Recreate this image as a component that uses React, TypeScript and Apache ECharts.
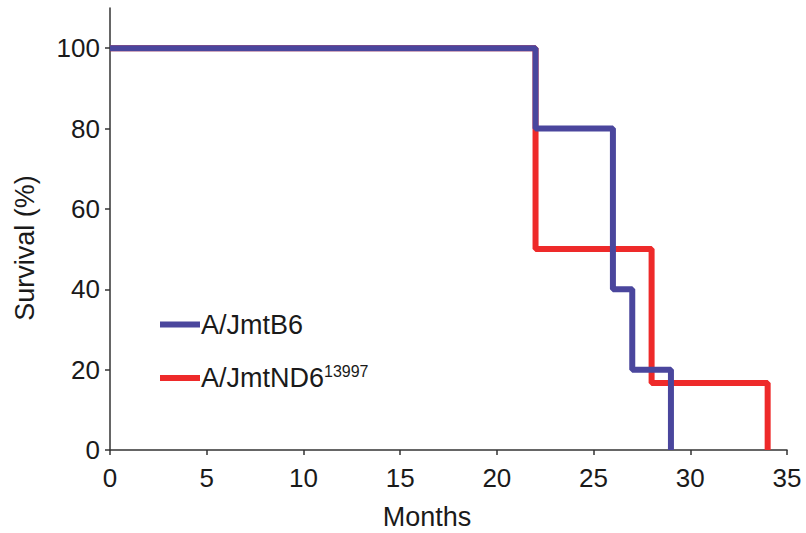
import React, { useEffect, useRef } from "react";
import * as echarts from "echarts";

const seriesNames = ["A/JmtB6", "A/JmtND6"];
const superscript = "13997";
const b6Points: [number, number][] = [
  [0, 100],
  [22, 80],
  [26, 40],
  [27, 20],
  [29, 0],
];
const nd6Points: [number, number][] = [
  [0, 100],
  [22, 50],
  [28, 16.67],
  [34, 0],
];
const xTicks = [0, 5, 10, 15, 20, 25, 30, 35];
const yTicks = [0, 20, 40, 60, 80, 100];
const xTitle = "Months";
const yTitle = "Survival (%)";

const FONT = "'Liberation Sans', Arial, Helvetica, sans-serif";
const BLUE = "#4a469d";
const RED = "#ee2a2a";
const INK = "#1a1a1a";

export default function App() {
  const ref = useRef<HTMLDivElement>(null);
  useEffect(() => {
    if (!ref.current) return;
    const chart = echarts.init(ref.current, undefined, { renderer: "svg" });
    chart.setOption({
      animation: false,
      backgroundColor: "#ffffff",
      grid: { left: 110, right: 19, top: 8, bottom: 83, containLabel: false },
      xAxis: {
        type: "value",
        min: 0,
        max: 35,
        interval: 5,
        axisLine: { show: true, lineStyle: { color: "#333", width: 1.5 } },
        axisTick: { show: true, length: 5, inside: false, lineStyle: { color: "#333", width: 1.5 }, customValues: xTicks },
        axisLabel: { show: true, margin: 15, fontSize: 26, color: INK, fontFamily: FONT, customValues: xTicks },
        splitLine: { show: false },
      },
      yAxis: {
        type: "value",
        min: 0,
        max: 110,
        interval: 10,
        axisLine: { show: true, lineStyle: { color: "#333", width: 1.5 } },
        axisTick: { show: true, length: 5, inside: false, lineStyle: { color: "#333", width: 1.5 }, customValues: yTicks },
        axisLabel: { show: true, margin: 10, fontSize: 26, color: INK, fontFamily: FONT, customValues: yTicks },
        splitLine: { show: false },
      },
      legend: {
        orient: "vertical",
        left: 160,
        top: 311,
        padding: 0,
        itemWidth: 40,
        itemHeight: 6,
        itemGap: 25,
        icon: "rect",
        data: [seriesNames[0], seriesNames[1]],
        formatter: (name: string) =>
          name === seriesNames[1] ? `{b|${name}}{s|${superscript}}` : `{b|${name}}`,
        textStyle: {
          color: INK,
          fontFamily: FONT,
          fontSize: 27,
          padding: [0, 0, 0, -4],
          rich: {
            b: { fontSize: 27, fontFamily: FONT, color: INK, lineHeight: 30 },
            s: { fontSize: 16, fontFamily: FONT, color: INK, verticalAlign: "top", lineHeight: 20 },
          },
        },
      },
      graphic: [
        {
          type: "text",
          x: 25,
          y: 248,
          rotation: Math.PI / 2,
          style: { text: yTitle, fontSize: 27, fontFamily: FONT, fill: INK, align: "center", verticalAlign: "middle" },
        },
        {
          type: "text",
          x: 427,
          y: 517,
          style: { text: xTitle, fontSize: 27, fontFamily: FONT, fill: INK, align: "center", verticalAlign: "middle" },
        },
      ],
      series: [
        {
          name: seriesNames[1],
          type: "line",
          step: "end",
          data: nd6Points,
          symbol: "none",
          color: RED,
          lineStyle: { color: RED, width: 6 },
          z: 2,
        },
        {
          name: seriesNames[0],
          type: "line",
          step: "end",
          data: b6Points,
          symbol: "none",
          color: BLUE,
          lineStyle: { color: BLUE, width: 6 },
          z: 3,
        },
      ],
    });
    return () => chart.dispose();
  }, []);
  return <div ref={ref} style={{ width: 806, height: 533, position: "absolute", left: 0, top: 0 }} />;
}
